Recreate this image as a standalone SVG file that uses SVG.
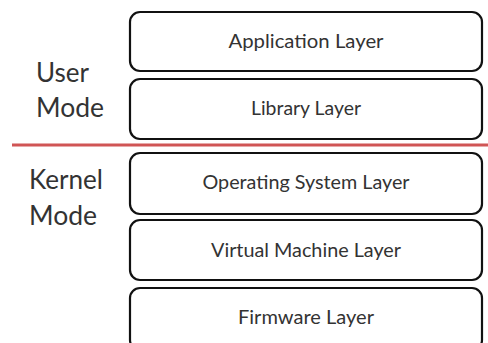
<svg xmlns="http://www.w3.org/2000/svg" width="488" height="343" viewBox="0 0 488 343">
  <style>
    .box { fill: #ffffff; stroke: #111111; stroke-width: 2.2; }
    .lbl { font-family: Lato, "Open Sans", sans-serif; font-size: 19.5px; fill: #333333; text-anchor: middle; }
    .mode { font-family: Lato, "Open Sans", sans-serif; font-size: 26px; fill: #333333; }
    .divider { stroke: #d05555; stroke-width: 3; }
  </style>
  <rect width="488" height="343" fill="#ffffff"/>

  <!-- mode labels -->
  <g id="user-mode">
    <text class="mode" x="36" y="82" textLength="53" lengthAdjust="spacingAndGlyphs">User</text>
    <text class="mode" x="36" y="117" textLength="68" lengthAdjust="spacingAndGlyphs">Mode</text>
  </g>
  <g id="kernel-mode">
    <text class="mode" x="29" y="189" textLength="74" lengthAdjust="spacingAndGlyphs">Kernel</text>
    <text class="mode" x="29" y="225" textLength="68" lengthAdjust="spacingAndGlyphs">Mode</text>
  </g>

  <!-- user / kernel boundary -->
  <g id="connectors">
    <line class="divider" x1="12" y1="145" x2="488" y2="145"/>
  </g>

  <!-- layer stack -->
  <g id="application-layer">
    <rect class="box" x="130" y="12" width="352" height="59" rx="10"/>
    <text class="lbl" x="306" y="48" textLength="155" lengthAdjust="spacingAndGlyphs">Application Layer</text>
  </g>
  <g id="library-layer">
    <rect class="box" x="130" y="79" width="352" height="60" rx="10"/>
    <text class="lbl" x="306" y="115" textLength="110" lengthAdjust="spacingAndGlyphs">Library Layer</text>
  </g>
  <g id="os-layer">
    <rect class="box" x="130" y="153" width="352" height="61" rx="10"/>
    <text class="lbl" x="306" y="189" textLength="207" lengthAdjust="spacingAndGlyphs">Operating System Layer</text>
  </g>
  <g id="vm-layer">
    <rect class="box" x="130" y="220" width="352" height="60" rx="10"/>
    <text class="lbl" x="306" y="257" textLength="190" lengthAdjust="spacingAndGlyphs">Virtual Machine Layer</text>
  </g>
  <g id="firmware-layer">
    <rect class="box" x="130" y="288" width="352" height="62" rx="10"/>
    <text class="lbl" x="306" y="324" textLength="136" lengthAdjust="spacingAndGlyphs">Firmware Layer</text>
  </g>
</svg>
